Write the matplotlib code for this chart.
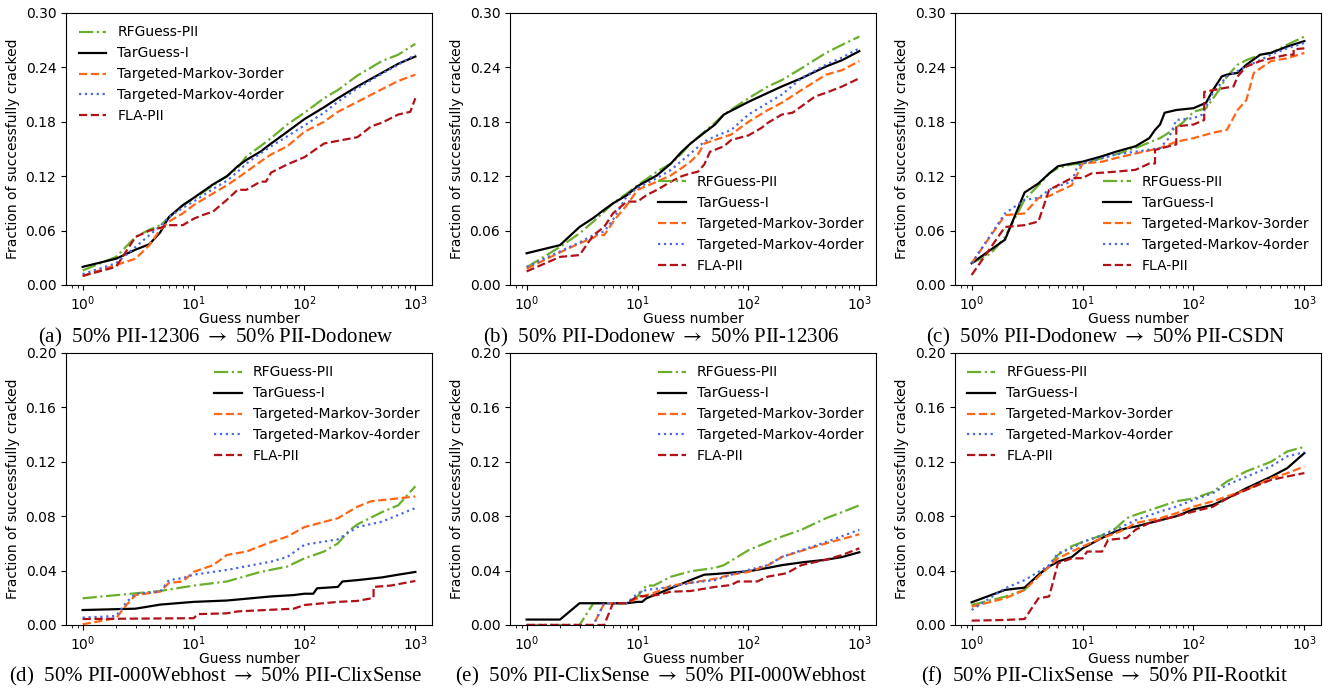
import matplotlib
matplotlib.use("Agg")
import matplotlib.pyplot as plt

# ---------------- data ----------------
labels = ["RFGuess-PII", "TarGuess-I", "Targeted-Markov-3order", "Targeted-Markov-4order", "FLA-PII"]
captions = [
    "(a)  50% PII-12306 $\\rightarrow$ 50% PII-Dodonew",
    "(b)  50% PII-Dodonew $\\rightarrow$ 50% PII-12306",
    "(c)  50% PII-Dodonew $\\rightarrow$ 50% PII-CSDN",
    "(d)  50% PII-000Webhost $\\rightarrow$ 50% PII-ClixSense",
    "(e)  50% PII-ClixSense $\\rightarrow$ 50% PII-000Webhost",
    "(f)  50% PII-ClixSense $\\rightarrow$ 50% PII-Rootkit",
]

# (a)
a_x = [1, 2, 3, 4, 5, 6, 8, 10, 15, 20, 25, 30, 40, 50, 70, 100, 150, 200, 300, 500, 700, 1000]
a_rf = [0.016, 0.031, 0.053, 0.061, 0.066, 0.074, 0.088, 0.095, 0.110, 0.120, 0.129, 0.142, 0.153, 0.162, 0.177, 0.190, 0.206, 0.215, 0.231, 0.247, 0.254, 0.266]
a_tg = [0.020, 0.029, 0.039, 0.045, 0.058, 0.075, 0.088, 0.096, 0.111, 0.120, 0.131, 0.138, 0.147, 0.156, 0.169, 0.183, 0.196, 0.206, 0.219, 0.234, 0.244, 0.252]
a_m3 = [0.010, 0.022, 0.029, 0.044, 0.061, 0.070, 0.079, 0.088, 0.101, 0.110, 0.118, 0.125, 0.136, 0.144, 0.153, 0.169, 0.180, 0.191, 0.202, 0.216, 0.225, 0.232]
a_m4 = [0.012, 0.024, 0.042, 0.055, 0.065, 0.075, 0.085, 0.092, 0.106, 0.115, 0.125, 0.134, 0.145, 0.153, 0.164, 0.176, 0.190, 0.202, 0.217, 0.233, 0.243, 0.254]
a_fla_x = [1, 2, 3, 4, 5, 6, 8, 10, 12, 15, 20, 25, 30, 40, 45, 50, 70, 100, 150, 200, 300, 400, 500, 700, 900, 1000]
a_fla = [0.010, 0.020, 0.053, 0.060, 0.063, 0.066, 0.066, 0.073, 0.077, 0.081, 0.094, 0.105, 0.105, 0.114, 0.114, 0.124, 0.133, 0.141, 0.156, 0.159, 0.163, 0.175, 0.179, 0.188, 0.191, 0.206]

# (b)
b_x = [1, 2, 3, 4, 5, 6, 8, 10, 15, 20, 25, 30, 40, 50, 60, 100, 150, 200, 300, 500, 700, 1000]
b_rf = [0.0195, 0.042, 0.057, 0.070, 0.081, 0.090, 0.101, 0.110, 0.125, 0.134, 0.145, 0.156, 0.169, 0.179, 0.188, 0.206, 0.219, 0.226, 0.239, 0.256, 0.265, 0.274]
b_tg = [0.035, 0.044, 0.064, 0.074, 0.083, 0.090, 0.099, 0.109, 0.121, 0.134, 0.147, 0.156, 0.168, 0.177, 0.188, 0.202, 0.212, 0.219, 0.228, 0.241, 0.248, 0.258]
b_m3_x = [1, 2, 3, 4, 4.3, 5, 6.3, 8, 10, 15, 20, 25, 30, 35, 40, 50, 70, 100, 150, 200, 300, 500, 700, 1000]
b_m3 = [0.018, 0.036, 0.046, 0.052, 0.055, 0.055, 0.073, 0.088, 0.105, 0.114, 0.121, 0.129, 0.136, 0.144, 0.156, 0.160, 0.166, 0.180, 0.193, 0.201, 0.215, 0.232, 0.237, 0.247]
b_m4_x = [1, 2, 3, 4, 5, 6, 8, 10, 15, 20, 30, 40, 50, 70, 100, 150, 200, 300, 500, 700, 1000]
b_m4 = [0.020, 0.037, 0.047, 0.055, 0.059, 0.072, 0.098, 0.107, 0.118, 0.127, 0.145, 0.158, 0.164, 0.171, 0.188, 0.201, 0.210, 0.228, 0.243, 0.251, 0.261]
b_fla_x = [1, 2, 3, 4, 5, 6, 8, 10, 12, 15, 20, 25, 30, 35, 40, 45, 60, 70, 100, 130, 150, 200, 250, 300, 400, 500, 700, 1000]
b_fla = [0.015, 0.031, 0.033, 0.055, 0.064, 0.079, 0.092, 0.092, 0.099, 0.105, 0.114, 0.120, 0.123, 0.125, 0.133, 0.147, 0.153, 0.160, 0.165, 0.173, 0.179, 0.188, 0.190, 0.197, 0.208, 0.212, 0.219, 0.228]

# (c)
c_rf_x = [1, 1.5, 2, 3, 4, 5, 6, 8, 10, 15, 20, 30, 50, 60, 80, 100, 130, 170, 200, 250, 300, 400, 500, 700, 1000]
c_rf = [0.024, 0.035, 0.053, 0.094, 0.110, 0.123, 0.129, 0.133, 0.134, 0.140, 0.144, 0.151, 0.162, 0.168, 0.179, 0.191, 0.195, 0.215, 0.230, 0.243, 0.248, 0.254, 0.256, 0.265, 0.274]
c_tg_x = [1, 2, 3, 4, 5, 6, 8, 10, 15, 20, 30, 40, 45, 50, 55, 70, 100, 130, 150, 180, 200, 250, 300, 400, 500, 700, 1000]
c_tg = [0.024, 0.050, 0.102, 0.112, 0.123, 0.131, 0.134, 0.136, 0.142, 0.147, 0.153, 0.162, 0.171, 0.177, 0.190, 0.193, 0.195, 0.201, 0.215, 0.230, 0.232, 0.234, 0.243, 0.254, 0.256, 0.263, 0.269]
c_m3_x = [1, 2, 3, 4, 5, 6, 8, 10, 15, 20, 30, 50, 70, 100, 150, 200, 250, 300, 350, 500, 700, 1000]
c_m3 = [0.024, 0.077, 0.079, 0.096, 0.098, 0.103, 0.110, 0.134, 0.136, 0.140, 0.145, 0.151, 0.158, 0.162, 0.168, 0.171, 0.193, 0.204, 0.234, 0.247, 0.250, 0.256]
c_m4_x = [1, 2, 3, 4, 5, 6, 8, 9, 10, 20, 30, 50, 60, 70, 100, 120, 150, 200, 300, 400, 500, 700, 1000]
c_m4 = [0.024, 0.079, 0.094, 0.096, 0.105, 0.109, 0.114, 0.131, 0.134, 0.144, 0.147, 0.151, 0.162, 0.182, 0.184, 0.188, 0.212, 0.230, 0.241, 0.248, 0.254, 0.261, 0.267]
c_fla_x = [1, 2, 3, 4, 5, 6, 8, 10, 12, 20, 30, 40, 45, 45, 60, 70, 70, 100, 125, 125, 150, 230, 250, 300, 400, 500, 700, 800, 800, 1000]
c_fla = [0.011, 0.064, 0.066, 0.070, 0.105, 0.110, 0.118, 0.118, 0.123, 0.125, 0.127, 0.134, 0.134, 0.149, 0.153, 0.155, 0.175, 0.177, 0.182, 0.213, 0.215, 0.219, 0.230, 0.241, 0.247, 0.250, 0.254, 0.254, 0.260, 0.261]

# (d)
d_rf_x = [1, 3, 5, 10, 20, 40, 70, 100, 150, 200, 250, 300, 500, 700, 1000]
d_rf = [0.0196, 0.0233, 0.025, 0.029, 0.032, 0.039, 0.043, 0.049, 0.054, 0.060, 0.069, 0.074, 0.083, 0.088, 0.102]
d_tg_x = [1, 3, 5, 10, 20, 50, 80, 100, 120, 130, 200, 220, 300, 500, 700, 1000]
d_tg = [0.011, 0.012, 0.015, 0.017, 0.018, 0.021, 0.022, 0.023, 0.023, 0.027, 0.028, 0.032, 0.033, 0.035, 0.037, 0.039]
d_m3_x = [1, 2, 2.5, 3, 5, 6, 8, 10, 15, 20, 30, 50, 70, 100, 200, 300, 400, 1000]
d_m3 = [0.0005, 0.005, 0.015, 0.022, 0.0245, 0.031, 0.032, 0.039, 0.044, 0.0515, 0.054, 0.061, 0.065, 0.072, 0.0785, 0.087, 0.091, 0.0945]
d_m4_x = [1, 2, 2.5, 3, 5, 6, 8, 10, 20, 50, 70, 100, 200, 300, 500, 1000]
d_m4 = [0.0054, 0.0066, 0.017, 0.023, 0.0245, 0.033, 0.0345, 0.037, 0.0405, 0.0466, 0.050, 0.059, 0.063, 0.072, 0.076, 0.086]
d_fla_x = [1, 10, 11, 20, 25, 80, 100, 200, 300, 400, 420, 420, 600, 1000]
d_fla = [0.0044, 0.005, 0.008, 0.0086, 0.010, 0.012, 0.0147, 0.017, 0.0177, 0.0196, 0.020, 0.028, 0.029, 0.0324]

# (e)
e_rf_x = [1, 3, 4, 8, 10, 12, 14, 20, 30, 50, 60, 100, 150, 200, 300, 500, 700, 1000]
e_rf = [0, 0, 0.016, 0.016, 0.021, 0.029, 0.029, 0.0355, 0.0395, 0.042, 0.044, 0.055, 0.061, 0.065, 0.070, 0.0785, 0.083, 0.088]
e_tg_x = [1, 2, 3, 8, 10, 11, 12, 20, 30, 40, 50, 100, 150, 200, 300, 500, 700, 1000]
e_tg = [0.004, 0.004, 0.016, 0.016, 0.017, 0.017, 0.0196, 0.027, 0.033, 0.037, 0.0375, 0.0395, 0.042, 0.044, 0.046, 0.048, 0.050, 0.0535]
e_m3_x = [1, 4, 5, 8, 10, 15, 20, 30, 50, 70, 100, 150, 200, 300, 500, 1000]
e_m3 = [0, 0, 0.016, 0.016, 0.0196, 0.0245, 0.029, 0.031, 0.034, 0.037, 0.039, 0.044, 0.050, 0.0545, 0.060, 0.0667]
e_m4_x = [1, 4, 5, 8, 10, 12, 20, 30, 50, 70, 100, 150, 200, 300, 500, 1000]
e_m4 = [0, 0, 0.016, 0.016, 0.0233, 0.0258, 0.028, 0.031, 0.033, 0.037, 0.0405, 0.044, 0.050, 0.055, 0.061, 0.070]
e_fla_x = [1, 5, 6, 8, 10, 15, 20, 30, 50, 70, 80, 120, 150, 220, 300, 500, 700, 1000]
e_fla = [0, 0, 0.016, 0.016, 0.021, 0.022, 0.0245, 0.025, 0.028, 0.0294, 0.032, 0.032, 0.0356, 0.038, 0.044, 0.048, 0.0515, 0.0564]

# (f)
f_x = [1, 2, 3, 4, 5, 6, 8, 10, 15, 20, 25, 30, 50, 70, 100, 150, 200, 300, 500, 700, 1000]
f_rf = [0.0147, 0.0208, 0.0258, 0.0368, 0.044, 0.0515, 0.058, 0.061, 0.066, 0.0712, 0.0785, 0.081, 0.087, 0.091, 0.093, 0.098, 0.1055, 0.113, 0.120, 0.1276, 0.131]
f_tg = [0.0167, 0.0258, 0.0275, 0.0368, 0.043, 0.0466, 0.050, 0.0564, 0.064, 0.069, 0.0712, 0.0724, 0.077, 0.080, 0.085, 0.0883, 0.093, 0.1006, 0.109, 0.1153, 0.1264]
f_m3 = [0.0135, 0.0196, 0.0258, 0.0356, 0.043, 0.049, 0.054, 0.0577, 0.064, 0.0675, 0.071, 0.075, 0.0785, 0.0822, 0.087, 0.091, 0.0945, 0.0994, 0.108, 0.1116, 0.1166]
f_m4 = [0.011, 0.027, 0.033, 0.039, 0.044, 0.0527, 0.0564, 0.061, 0.066, 0.070, 0.074, 0.077, 0.0834, 0.087, 0.092, 0.097, 0.103, 0.109, 0.1166, 0.124, 0.127]
f_fla_x = [1, 2, 3, 4, 5, 6, 8, 10, 11, 15, 17, 25, 30, 40, 50, 100, 150, 200, 300, 500, 700, 1000]
f_fla = [0.0032, 0.0037, 0.0044, 0.0196, 0.021, 0.0454, 0.049, 0.049, 0.054, 0.054, 0.0626, 0.064, 0.070, 0.075, 0.077, 0.0834, 0.087, 0.093, 0.0994, 0.1067, 0.1092, 0.1117]

panels = [
    [(a_x, a_rf), (a_x, a_tg), (a_x, a_m3), (a_x, a_m4), (a_fla_x, a_fla)],
    [(b_x, b_rf), (b_x, b_tg), (b_m3_x, b_m3), (b_m4_x, b_m4), (b_fla_x, b_fla)],
    [(c_rf_x, c_rf), (c_tg_x, c_tg), (c_m3_x, c_m3), (c_m4_x, c_m4), (c_fla_x, c_fla)],
    [(d_rf_x, d_rf), (d_tg_x, d_tg), (d_m3_x, d_m3), (d_m4_x, d_m4), (d_fla_x, d_fla)],
    [(e_rf_x, e_rf), (e_tg_x, e_tg), (e_m3_x, e_m3), (e_m4_x, e_m4), (e_fla_x, e_fla)],
    [(f_x, f_rf), (f_x, f_tg), (f_x, f_m3), (f_x, f_m4), (f_fla_x, f_fla)],
]
legend_locs = ["upper left", "lower right", "lower right", "upper right", "upper right", "upper left"]

# ---------------- style ----------------
colors = ["#6aaf2c", "#000000", "#ff6616", "#4a68e6", "#b01218"]
styles = ["-.", "-", "--", ":", "--"]

W, H = 1328, 688
fig = plt.figure(figsize=(W / 100, H / 100), dpi=100)

lefts = [66, 510, 955]
bottoms_px = [285, 625]
ax_w, ax_h = 366, 272
cap_x = [216, 661, 1105]
cap_y = [337, 676]

for i, series in enumerate(panels):
    r, c = divmod(i, 3)
    ax = fig.add_axes([lefts[c] / W, 1 - bottoms_px[r] / H, ax_w / W, ax_h / H])
    for (xs, ys), lab, col, ls in zip(series, labels, colors, styles):
        ax.plot(xs, ys, ls, color=col, lw=1.6, label=lab)
    ax.set_xscale("log")
    if r == 0:
        ax.set_ylim(0, 0.30)
        ax.set_yticks([0, 0.06, 0.12, 0.18, 0.24, 0.30])
    else:
        ax.set_ylim(0, 0.20)
        ax.set_yticks([0, 0.04, 0.08, 0.12, 0.16, 0.20])
    ax.yaxis.set_major_formatter(matplotlib.ticker.FormatStrFormatter("%.2f"))
    ax.tick_params(labelsize=10)
    ax.set_xlabel("Guess number", fontsize=10, labelpad=-1)
    ax.set_ylabel("Fraction of successfully cracked", fontsize=10)
    ax.legend(loc=legend_locs[i], frameon=False, fontsize=10)
    fig.text(cap_x[c] / W, 1 - cap_y[r] / H, captions[i], ha="center", va="center",
             fontsize=15, family=["Liberation Serif", "DejaVu Serif"],
             math_fontfamily="stix")

fig.savefig("out.png", dpi=100)
